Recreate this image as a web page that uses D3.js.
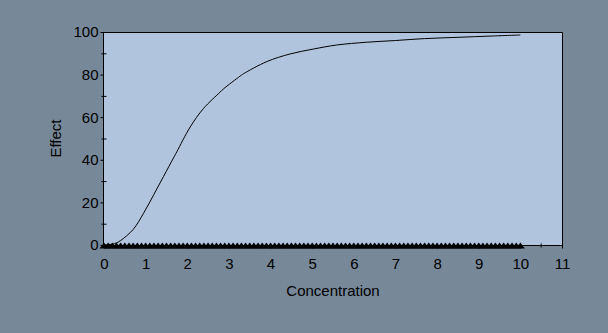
<!DOCTYPE html>
<html>
<head>
<meta charset="utf-8">
<script src="https://cdn.jsdelivr.net/npm/d3@7"></script>
<style>
    body { margin: 0; background: #778899; }
    svg { display: block; }
</style>
</head>
<body>
<svg id="chartSVG" width="608" height="333"></svg>
<script>
(function () {
    'use strict';

    // curve
    const concentration = [0, 0.2, 0.3, 0.4, 0.7, 0.95, 1.2, 1.43, 1.67, 1.75, 2.07, 2.39, 2.79, 2.87, 3.27,
                           3.35, 3.91, 4.47, 5.03, 5.59, 6.31, 7.0, 7.7, 8.5, 9.3, 10];
    const effect = [0, 0.4, 1.0, 2.1, 7.3, 14.9, 23.8, 32.2, 40.9, 43.8, 55.4, 64.1, 71.8, 73.3, 79.3,
                    80.4, 86.1, 89.7, 92.0, 93.9, 95.2, 96.0, 96.9, 97.5, 98.1, 98.6];

    // sample points sitting on the baseline (0 .. 10 step 0.1)
    const samplePoints = d3.range(0, 101).map(i => +(i / 10).toFixed(1));
    const sampleEffect = samplePoints.map(() => 0);

    const xTicks = [0, 1, 2, 3, 4, 5, 6, 7, 8, 9, 10, 11];
    const xMinorTicks = [0.5, 1.5, 2.5, 3.5, 4.5, 5.5, 6.5, 7.5, 8.5, 9.5, 10.5];
    const yTicks = [0, 20, 40, 60, 80, 100];
    const yMinorTicks = [10, 30, 50, 70, 90];

    const plotLeft = 104, plotRight = 562, plotTop = 32, plotBottom = 245;
    const fontFamily = "'Liberation Sans', Arial, sans-serif";

    const xScale = d3.scaleLinear().domain([0, 11]).range([plotLeft, plotRight]);
    const yScale = d3.scaleLinear().domain([0, 100]).range([plotBottom, plotTop]);

    const svg = d3.select('#chartSVG')
            .style("font-family", fontFamily);

    svg.append("rect")
            .attr("width", 608)
            .attr("height", 333)
            .attr("fill", "#778899");

    svg.append("rect")
            .attr("x", plotLeft)
            .attr("y", plotTop)
            .attr("width", plotRight - plotLeft)
            .attr("height", plotBottom - plotTop)
            .attr("fill", "#b0c4de");

    // frame top + right
    svg.append("path")
            .attr("d", `M${plotLeft},${plotTop + 0.5}H${plotRight + 0.5}V${plotBottom}`)
            .attr("fill", "none")
            .attr("stroke", "#000");

    // curve
    const line = d3.line()
            .x(i => xScale(concentration[i]))
            .y(i => yScale(effect[i]))
            .curve(d3.curveCatmullRom.alpha(0.5));

    svg.append("path")
            .attr("d", line(d3.range(concentration.length)))
            .attr("fill", "none")
            .attr("stroke", "#000")
            .attr("stroke-width", 1);

    // y axis
    const yAxis = d3.axisLeft(yScale)
            .tickValues(yTicks)
            .tickSize(3)
            .tickPadding(2);

    const yAxisG = svg.append("g")
            .attr("transform", `translate(${plotLeft - 0.5},0)`)
            .call(yAxis);

    yAxisG.select(".domain").attr("d", `M0,${plotTop}V${plotBottom + 3}`);

    yAxisG.selectAll("g.minor")
            .data(yMinorTicks)
            .join("g")
            .attr("class", "minor")
            .attr("transform", d => `translate(0,${yScale(d) + 0.5})`)
            .append("line")
            .attr("x1", -2)
            .attr("x2", 3)
            .attr("stroke", "#000");

    // x axis
    const xAxis = d3.axisBottom(xScale)
            .tickValues(xTicks)
            .tickSize(3)
            .tickPadding(10);

    const xAxisG = svg.append("g")
            .attr("transform", `translate(0,${plotBottom + 0.5})`)
            .call(xAxis);

    xAxisG.select(".domain").attr("d", `M${plotLeft},0H${plotRight + 1}`);

    xAxisG.selectAll("g.minor")
            .data(xMinorTicks)
            .join("g")
            .attr("class", "minor")
            .attr("transform", d => `translate(${xScale(d)},0)`)
            .append("line")
            .attr("y1", -2)
            .attr("y2", 2)
            .attr("stroke", "#000");

    svg.selectAll(".tick text")
            .attr("fill", "#000")
            .style("font-size", "15px")
            .style("font-family", fontFamily);

    svg.selectAll(".tick line").attr("stroke", "#000");
    svg.selectAll(".domain").attr("stroke", "#000");

    // triangle markers along the baseline
    const triangle = "M0,-3L4.5,3L-4.5,3Z";

    svg.append("g")
            .selectAll("path")
            .data(samplePoints)
            .join("path")
            .attr("transform", (d, i) => `translate(${xScale(d)},${yScale(sampleEffect[i]) + 0.5})`)
            .attr("d", triangle)
            .attr("fill", "#000");

    // titles
    svg.append("text")
            .attr("x", (plotLeft + plotRight) / 2)
            .attr("y", 296)
            .attr("text-anchor", "middle")
            .style("font-size", "15px")
            .text("Concentration");

    svg.append("text")
            .attr("transform", `translate(61,${(plotTop + plotBottom) / 2}) rotate(-90)`)
            .attr("text-anchor", "middle")
            .style("font-size", "15px")
            .text("Effect");

}());
</script>
</body>
</html>
